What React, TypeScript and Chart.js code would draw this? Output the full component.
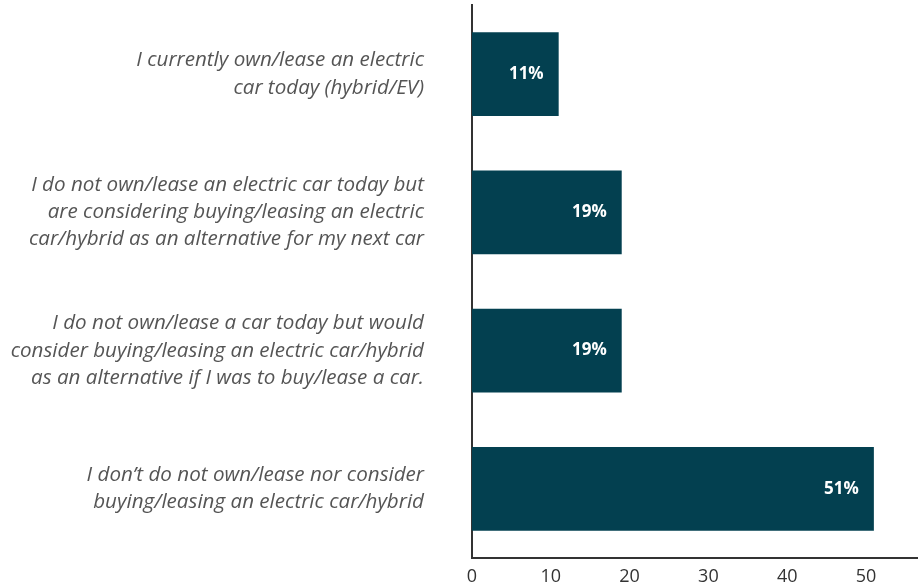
import React, { useEffect, useRef } from "react";
import { Chart, registerables } from "chart.js";

Chart.register(...registerables);

const categories: string[][] = [
  ["I currently own/lease an electric", "car today (hybrid/EV)"],
  [
    "I do not own/lease an electric car today but",
    "are considering buying/leasing an electric",
    "car/hybrid as an alternative for my next car",
  ],
  [
    "I do not own/lease a car today but would",
    "consider buying/leasing an electric car/hybrid",
    "as an alternative if I was to buy/lease a car.",
  ],
  ["I don\u2019t do not own/lease nor consider", "buying/leasing an electric car/hybrid"],
];
const values: number[] = [11, 19, 19, 51];
const valueLabels: string[] = ["11%", "19%", "19%", "51%"];
const xTicks: number[] = [0, 10, 20, 30, 40, 50];

const FONT = "'Open Sans', 'Noto Sans', sans-serif";

const valueLabelPlugin = {
  id: "valueLabels",
  afterDatasetsDraw(chart: any) {
    const ctx = chart.ctx;
    const meta = chart.getDatasetMeta(0);
    ctx.save();
    ctx.fillStyle = "#ffffff";
    ctx.font = `bold 17px ${FONT}`;
    ctx.textAlign = "right";
    ctx.textBaseline = "middle";
    meta.data.forEach((el: any, i: number) => {
      ctx.fillText(valueLabels[i], el.x - 15, el.y);
    });
    ctx.restore();
  },
};

export default function App() {
  const ref = useRef<HTMLCanvasElement | null>(null);
  useEffect(() => {
    if (!ref.current) return;
    const chart = new Chart(ref.current, {
      type: "bar",
      data: {
        labels: categories,
        datasets: [
          {
            data: values,
            backgroundColor: "#034050",
            barPercentage: 0.605,
            categoryPercentage: 1,
          },
        ],
      },
      options: {
        indexAxis: "y",
        animation: false,
        responsive: false,
        maintainAspectRatio: false,
        layout: { padding: { top: 5, left: 0, right: 0, bottom: 0 } },
        plugins: { legend: { display: false }, tooltip: { enabled: false } },
        scales: {
          x: {
            min: 0,
            max: 56.6,
            grid: { display: false, drawTicks: false },
            border: { display: true, color: "#333333", width: 2 },
            afterBuildTicks: (s: any) => {
              s.ticks = xTicks.map((v) => ({ value: v }));
            },
            afterFit: (s: any) => {
              s.height = 29;
              s.paddingLeft = 0;
              s.paddingRight = 0;
            },
            ticks: {
              color: "#333333",
              font: { family: FONT, size: 18 },
              padding: 8,
              maxRotation: 0,
            },
          },
          y: {
            grid: { display: false, drawTicks: false },
            border: { display: true, color: "#333333", width: 2 },
            afterFit: (s: any) => {
              s.width = 472;
              s.paddingTop = 0;
              s.paddingBottom = 0;
            },
            ticks: {
              color: "#555555",
              font: { family: FONT, size: 20.6, style: "italic", lineHeight: 1.32 },
              padding: 48,
            },
          },
        },
      },
      plugins: [valueLabelPlugin],
    });
    return () => chart.destroy();
  }, []);
  return (
    <div style={{ position: "fixed", left: 0, top: 0, width: 918, height: 587, background: "#fff" }}>
      <canvas ref={ref} width={918} height={587} style={{ width: 918, height: 587 }} />
    </div>
  );
}
